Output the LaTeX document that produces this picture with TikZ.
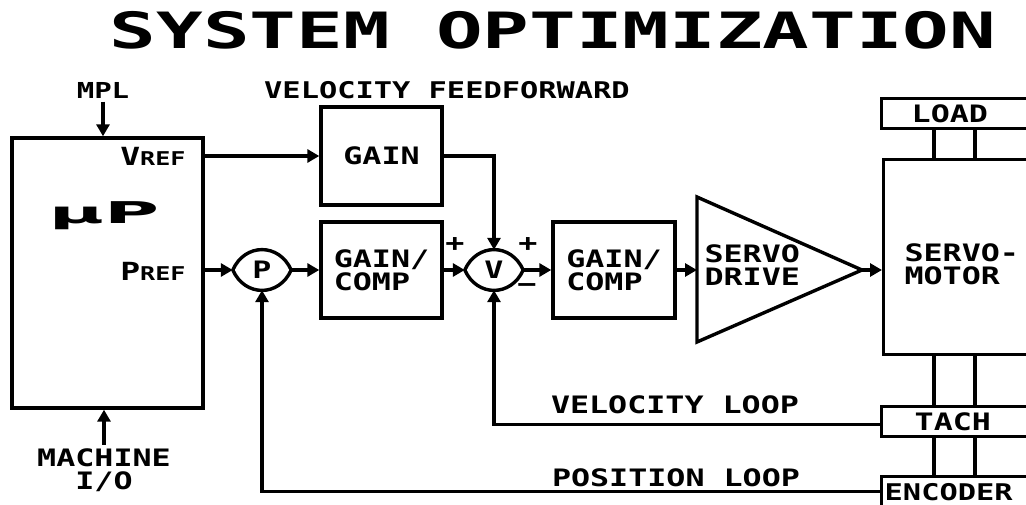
\documentclass[tikz,border=0pt]{standalone}
\usepackage{fontspec}
\usetikzlibrary{arrows.meta}
\newfontfamily\plotfont[FakeStretch=1.32]{DejaVu Sans Mono Bold}
\newfontfamily\titlefont[FakeStretch=1.55]{DejaVu Sans Mono Bold}
\newfontfamily\symfont{DejaVu Sans Bold}

\tikzset{
  block/.style={draw, line width=3.4pt, inner sep=0pt, align=left},
  junction/.style={minimum width=58pt, minimum height=40pt, inner sep=0pt},
  wire/.style={line width=3.4pt, -{Triangle[length=12pt,width=13pt]}},
  shaft/.style={line width=3.4pt},
}
% lens shaped summing point round a junction node
\newcommand\drawlens[1]{%
  \draw[shaft, line cap=round] (#1.west)
    .. controls ([xshift=12pt,yshift=7pt]#1.north west) and ([xshift=-12pt,yshift=7pt]#1.north east) .. (#1.east)
    .. controls ([xshift=-12pt,yshift=-7pt]#1.south east) and ([xshift=12pt,yshift=-7pt]#1.south west) .. (#1.west);}

\begin{document}
\begin{tikzpicture}[x=1pt, y=-1pt, every node/.style={font={\plotfont\fontsize{24}{23}\selectfont}}]
  \clip (0,0) rectangle (1026,505);

  \node[font={\titlefont\fontsize{50}{50}\selectfont}] (title) at (553,30) {SYSTEM OPTIMIZATION};
  \node[font={\plotfont\fontsize{23}{23}\selectfont}] (vff) at (447,90) {VELOCITY FEEDFORWARD};

  % microprocessor
  \node[block, minimum width=191pt, minimum height=270pt] (up) at (107.5,273) {};
  \node[font={\plotfont\fontsize{22}{22}\selectfont}] (mpl) at (103,90) {MPL};
  \node (mio) at (104,470) [align=center] {MACHINE\\I/O};
  \node (upname) at (104,216) {\symfont\scalebox{2.5}[1]{\fontsize{30}{30}\selectfont μP}};
  \node[anchor=east] (vref) at (189,156) {\fontsize{25}{25}\selectfont V\fontsize{19}{19}\selectfont REF};
  \node[anchor=east] (pref) at (189,271) {\fontsize{25}{25}\selectfont P\fontsize{19}{19}\selectfont REF};
  \draw[wire] (mpl.south) -- (mpl.south |- up.north);
  \draw[wire] (mio.north) -- (mio.north |- up.south);

  % forward path
  \node[block, minimum width=121pt, minimum height=98pt] (gain) at (381.5,156) {GAIN};
  \node[block, minimum width=121pt, minimum height=96pt] (gcomp1) at (381.5,270) {GAIN/\\COMP};
  \node[block, minimum width=122pt, minimum height=96pt] (gcomp2) at (614,270) {GAIN/\\COMP};
  \node[junction] (pj) at (262,270) {P};
  \node[junction] (vj) at (494,270) {V};
  \drawlens{pj}
  \drawlens{vj}
  \node (plusa) at ([shift={(-39,-25)}]vj.center) {+};
  \node (plusb) at ([shift={(34,-25)}]vj.center) {+};
  \node (minus) at ([shift={(33,18)}]vj.center) {−};

  % servo drive
  \coordinate (drivein) at (697,270);
  \coordinate (drivetip) at (862,270);
  \draw[shaft] (697,197) -- (drivetip) -- (697,342) -- cycle;
  \node[anchor=west, align=left] (drivetxt) at (701,265) {SERVO\\DRIVE};

  % motor with load, tach and encoder
  \node[block, anchor=north west, minimum width=200pt, minimum height=195pt] (motor) at (882,158) {};
  \node[anchor=west, align=left] (motortxt) at (901,264) {SERVO-\\MOTOR};
  \node[block, anchor=north west, minimum height=30pt, text width=150pt, inner xsep=30pt] (load) at (880,97) {LOAD};
  \node[block, anchor=north west, minimum height=30pt, text width=150pt, inner xsep=33pt] (tach) at (880,405) {TACH};
  \node[block, anchor=north west, minimum height=30pt, text width=160pt, inner xsep=3pt,
        font={\plotfont\fontsize{23}{23}\selectfont}] (enc) at (880,475) {ENCODER};
  \foreach \sx in {934,975} {
    \draw[shaft] (\sx,0 |- load.south) -- (\sx,0 |- motor.north);
    \draw[shaft] (\sx,0 |- motor.south) -- (\sx,0 |- tach.north);
    \draw[shaft] (\sx,0 |- tach.south) -- (\sx,0 |- enc.north);
  }

  % signal connectors
  \draw[wire] (up.east |- gain.west) -- (gain.west);
  \draw[wire] (up.east |- pj.west) -- (pj.west);
  \draw[wire] (pj.east) -- (gcomp1.west);
  \draw[wire] (gcomp1.east) -- (vj.west);
  \draw[wire] (gain.east) -| (vj.north);
  \draw[wire] (vj.east) -- (gcomp2.west);
  \draw[wire] (gcomp2.east) -- (drivein);
  \draw[wire] (drivetip) -- (drivetip -| motor.west);

  % feedback loops
  \draw[wire] ([yshift=-3pt]tach.west) -| (vj.south);
  \draw[wire] (enc.west) -| (pj.south);
  \node (vloop) at (675,405) {VELOCITY LOOP};
  \node (ploop) at (676,478) {POSITION LOOP};
\end{tikzpicture}
\end{document}
